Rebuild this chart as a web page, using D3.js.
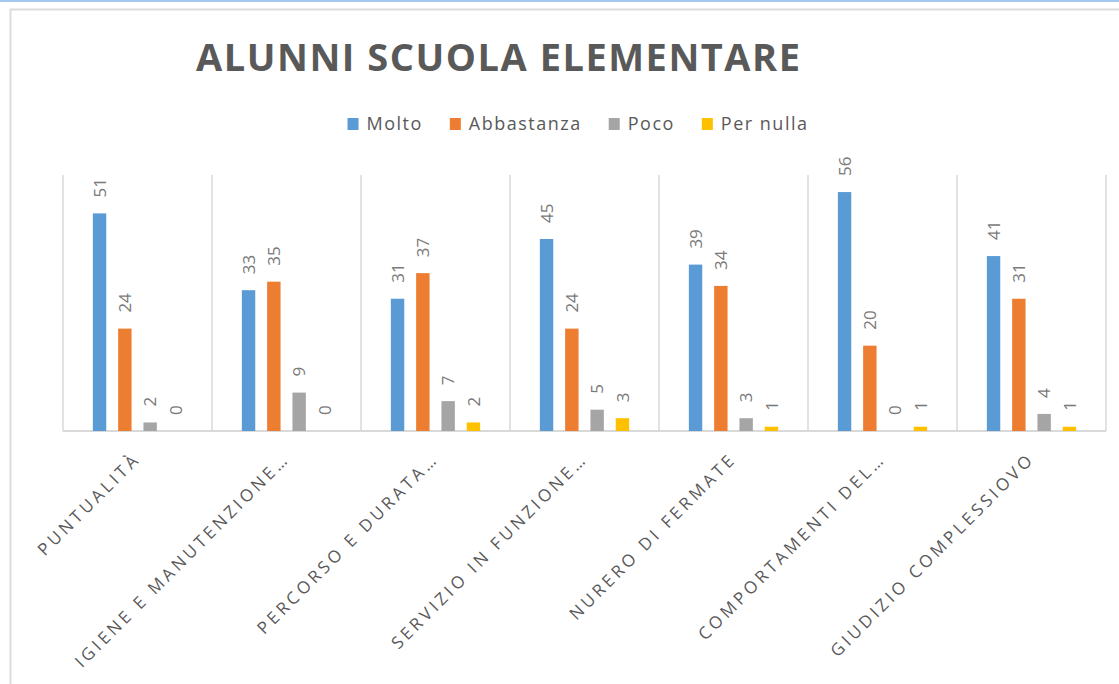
<!DOCTYPE html>
<html>
<head>
<meta charset="utf-8">
<script src="https://cdn.jsdelivr.net/npm/d3@7"></script>
<style>
  body { margin: 0; background: #fff; }
</style>
</head>
<body>
<div id="chart"></div>
<script>
//Width and height
var w = 1119;
var h = 684;

//chart data
var categories = ["PUNTUALITÀ", "IGIENE E MANUTENZIONE…", "PERCORSO E DURATA…",
  "SERVIZIO IN FUNZIONE…", "NURERO DI FERMATE", "COMPORTAMENTI DEL…", "GIUDIZIO COMPLESSIOVO"
];
var seriesNames = ["Molto", "Abbastanza", "Poco", "Per nulla"];
var molto = [51, 33, 31, 45, 39, 56, 41];
var abbastanza = [24, 35, 37, 24, 34, 20, 31];
var poco = [2, 9, 7, 5, 3, 0, 4];
var perNulla = [0, 0, 2, 3, 1, 1, 1];
var yMax = 60;

var seriesValues = [molto, abbastanza, poco, perNulla];
var colors = ["#5b9bd5", "#ed7d31", "#a5a5a5", "#ffc000"];

//plot area
var plotLeft = 63,
  plotRight = 1106,
  plotTop = 175,
  plotBottom = 431;

//Create SVG element
var svg = d3.select("#chart")
  .append("svg")
  .attr("width", w)
  .attr("height", h)
  .style("display", "block");

//frame around the chart (blue line on top, grey border)
svg.append("line")
  .attr("x1", 0).attr("x2", w)
  .attr("y1", 1).attr("y2", 1)
  .attr("stroke", "#a6c8f0")
  .attr("stroke-width", 2);

svg.append("rect")
  .attr("x", 10.5)
  .attr("y", 9.5)
  .attr("width", w + 20)
  .attr("height", h + 20)
  .attr("fill", "none")
  .attr("stroke", "#dcdcdc")
  .attr("stroke-width", 2);

//scales
var x0 = d3.scaleBand()
  .domain(categories)
  .range([plotLeft, plotRight]);

var x1 = d3.scaleBand()
  .domain(seriesNames)
  .range([0, x0.bandwidth()])
  .paddingInner(0.47)
  .paddingOuter(1.18);

var y = d3.scaleLinear()
  .domain([0, yMax])
  .range([plotBottom, plotTop]);

//vertical separators between categories
var sepX = categories.map(function(d) { return x0(d); }).concat([plotRight]);
svg.selectAll("line.sep")
  .data(sepX)
  .enter()
  .append("line")
  .attr("class", "sep")
  .attr("x1", function(d) { return d; })
  .attr("x2", function(d) { return d; })
  .attr("y1", plotTop)
  .attr("y2", plotBottom)
  .attr("stroke", "#d9d9d9")
  .attr("stroke-width", 1.5);

//baseline
svg.append("line")
  .attr("x1", plotLeft)
  .attr("x2", plotRight)
  .attr("y1", y(0))
  .attr("y2", y(0))
  .attr("stroke", "#d9d9d9")
  .attr("stroke-width", 2);

//bars, one group per series
var groups = svg.selectAll("g.series")
  .data(seriesNames)
  .enter()
  .append("g")
  .attr("class", "series")
  .attr("fill", function(d, i) { return colors[i]; });

groups.selectAll("rect")
  .data(function(d, i) {
    return seriesValues[i].map(function(v, j) {
      return { s: d, cat: categories[j], v: v };
    });
  })
  .enter()
  .append("rect")
  .attr("x", function(d) { return x0(d.cat) + x1(d.s); })
  .attr("y", function(d) { return y(d.v); })
  .attr("width", x1.bandwidth())
  .attr("height", function(d) { return y(0) - y(d.v); });

//value labels, rotated
groups.selectAll("text")
  .data(function(d, i) {
    return seriesValues[i].map(function(v, j) {
      return { s: d, cat: categories[j], v: v };
    });
  })
  .enter()
  .append("text")
  .text(function(d) { return d.v; })
  .attr("transform", function(d) {
    var cx = x0(d.cat) + x1(d.s) + x1.bandwidth() / 2;
    return "translate(" + cx + "," + (y(d.v) - 16) + ") rotate(-90)";
  })
  .attr("dy", "0.36em")
  .attr("text-anchor", "start")
  .attr("font-family", "'Open Sans', sans-serif")
  .attr("font-size", "17px")
  .attr("fill", "#7a7a7a");

//category labels at -45 degrees
svg.selectAll("text.cat")
  .data(categories)
  .enter()
  .append("text")
  .attr("class", "cat")
  .text(function(d) { return d; })
  .attr("transform", function(d) {
    return "translate(" + (x0(d) + x0.bandwidth() / 2 + 4) + "," + (plotBottom + 29) + ") rotate(-45)";
  })
  .attr("text-anchor", "end")
  .attr("font-family", "'Open Sans', sans-serif")
  .attr("font-size", "17px")
  .attr("letter-spacing", "3.5px")
  .attr("fill", "#595959");

//title
svg.append("text")
  .text("ALUNNI SCUOLA ELEMENTARE")
  .attr("x", 196)
  .attr("y", 71)
  .attr("textLength", 604)
  .attr("lengthAdjust", "spacing")
  .attr("font-family", "'Open Sans', sans-serif")
  .attr("font-weight", "bold")
  .attr("font-size", "38px")
  .attr("fill", "#595959");

//legend
var legend = svg.append("g");
var lx = 0;
seriesNames.forEach(function(name, i) {
  legend.append("rect")
    .attr("x", lx)
    .attr("y", -12)
    .attr("width", 11)
    .attr("height", 12)
    .attr("fill", colors[i]);
  var t = legend.append("text")
    .text(name)
    .attr("x", lx + 19)
    .attr("y", 0)
    .attr("font-family", "'Open Sans', sans-serif")
    .attr("font-size", "18px")
    .attr("letter-spacing", "1.5px")
    .attr("fill", "#595959");
  lx += 19 + t.node().getComputedTextLength() + 27;
});
lx -= 27;
legend.attr("transform", "translate(" + (578 - lx / 2) + ",130)");
</script>
</body>
</html>
